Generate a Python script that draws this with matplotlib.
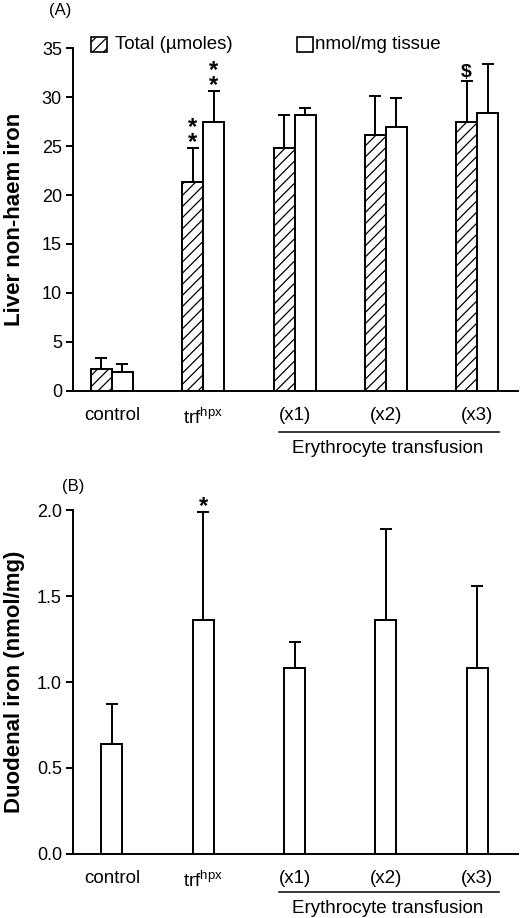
import matplotlib
matplotlib.use("Agg")
from matplotlib import pyplot as plt
from matplotlib.patches import Rectangle
import numpy as np

plt.rcParams['font.family'] = ['Liberation Sans', 'DejaVu Sans']
plt.rcParams['mathtext.fontset'] = 'custom'
plt.rcParams['mathtext.rm'] = 'Liberation Sans'
plt.rcParams['hatch.linewidth'] = 0.9

groups = ['control', 'trf$^{\\mathrm{hpx}}$', '(x1)', '(x2)', '(x3)']

# panel A: liver non-haem iron
liver_total = [2.2, 21.3, 24.8, 26.1, 27.5]
liver_total_err = [1.1, 3.5, 3.4, 4.0, 4.2]
liver_tissue = [1.9, 27.5, 28.2, 27.0, 28.4]
liver_tissue_err = [0.8, 3.1, 0.7, 2.9, 5.0]

# panel B: duodenal iron
duod = [0.64, 1.36, 1.08, 1.36, 1.08]
duod_err = [0.23, 0.63, 0.155, 0.53, 0.48]

x = np.arange(len(groups))
w = 0.23
lw = 1.4
fs = 13.5

fig = plt.figure(figsize=(5.2, 9.18), dpi=100)
axA = fig.add_axes([0.1404, 0.5744, 0.8556, 0.373])
axB = fig.add_axes([0.1404, 0.0700, 0.8556, 0.3741])


def style(ax, line_y, text_y):
    for s in ['top', 'right']:
        ax.spines[s].set_visible(False)
    ax.spines['left'].set_linewidth(lw)
    ax.spines['bottom'].set_linewidth(lw)
    ax.set_xlim(-0.427, 4.447)
    ax.set_xticks(x)
    ax.set_xticklabels(groups, fontsize=fs)
    ax.tick_params(axis='x', length=0, pad=12)
    ax.tick_params(axis='y', length=5, width=lw, labelsize=13, pad=3)
    ax.yaxis.set_label_coords(-0.108, 0.5)
    # line under the transfusion groups
    tr = ax.get_xaxis_transform()
    ax.plot([1.83, 4.24], [line_y, line_y], color='black', lw=1.1,
            transform=tr, clip_on=False)
    ax.text(3.02, text_y, 'Erythrocyte transfusion', transform=tr,
            ha='center', va='center', fontsize=fs)


# ---- panel A
errkw = dict(ecolor='black', elinewidth=lw, capsize=4.5, capthick=lw)
axA.bar(x - w / 2, liver_total, w, color='white', edgecolor='black',
        hatch='///', linewidth=lw,
        yerr=[np.zeros(5), liver_total_err], error_kw=errkw, zorder=2)
axA.bar(x + w / 2, liver_tissue, w, color='white', edgecolor='black',
        linewidth=lw,
        yerr=[np.zeros(5), liver_tissue_err], error_kw=errkw, zorder=2)
axA.set_ylim(0, 35)
axA.set_yticks(range(0, 36, 5))
axA.set_ylabel('Liver non-haem iron', fontsize=16, fontweight='bold')
style(axA, -0.1206, -0.168)

# significance marks
top_t = np.array(liver_total) + np.array(liver_total_err)
top_w = np.array(liver_tissue) + np.array(liver_tissue_err)
for xi, yi in [(x[1] - w / 2, top_t[1]), (x[1] + w / 2, top_w[1])]:
    axA.annotate('*\n*', (xi, yi), xytext=(0, -4), textcoords='offset points',
                 ha='center', va='bottom', fontsize=17, fontweight='bold',
                 linespacing=0.55)
axA.annotate('$', (x[4] - w / 2, top_t[4]), xytext=(0, 0),
             textcoords='offset points', ha='center', va='bottom',
             fontsize=14, fontweight='bold')

# legend drawn by hand
axA.add_patch(Rectangle((0.0404, 0.99), 0.036, 0.042, transform=axA.transAxes,
                        facecolor='white', edgecolor='black', hatch='///',
                        lw=1.2, clip_on=False))
axA.text(0.094, 1.011, 'Total (\u00b5moles)', transform=axA.transAxes,
         ha='left', va='center', fontsize=fs)
axA.add_patch(Rectangle((0.503, 0.99), 0.036, 0.042, transform=axA.transAxes,
                        facecolor='white', edgecolor='black',
                        lw=1.2, clip_on=False))
axA.text(0.543, 1.011, 'nmol/mg tissue', transform=axA.transAxes,
         ha='left', va='center', fontsize=fs)
fig.text(49 / 520, 1 - 11 / 918, '(A)', ha='left', va='center', fontsize=12)

# ---- panel B
axB.bar(x, duod, w, color='white', edgecolor='black', linewidth=lw,
        yerr=[np.zeros(5), duod_err], error_kw=errkw, zorder=2)
axB.set_ylim(0, 2.0)
axB.set_yticks(np.arange(0, 2.01, 0.5))
axB.set_yticklabels(['0.0', '0.5', '1.0', '1.5', '2.0'])
axB.set_ylabel('Duodenal iron (nmol/mg)', fontsize=16, fontweight='bold')
style(axB, -0.1124, -0.159)
axB.annotate('*', (x[1], duod[1] + duod_err[1]), xytext=(0, -4),
             textcoords='offset points', ha='center', va='bottom',
             fontsize=17, fontweight='bold')
fig.text(62 / 520, 1 - 486 / 918, '(B)', ha='left', va='center', fontsize=12)

fig.savefig('out.png', dpi=100)
